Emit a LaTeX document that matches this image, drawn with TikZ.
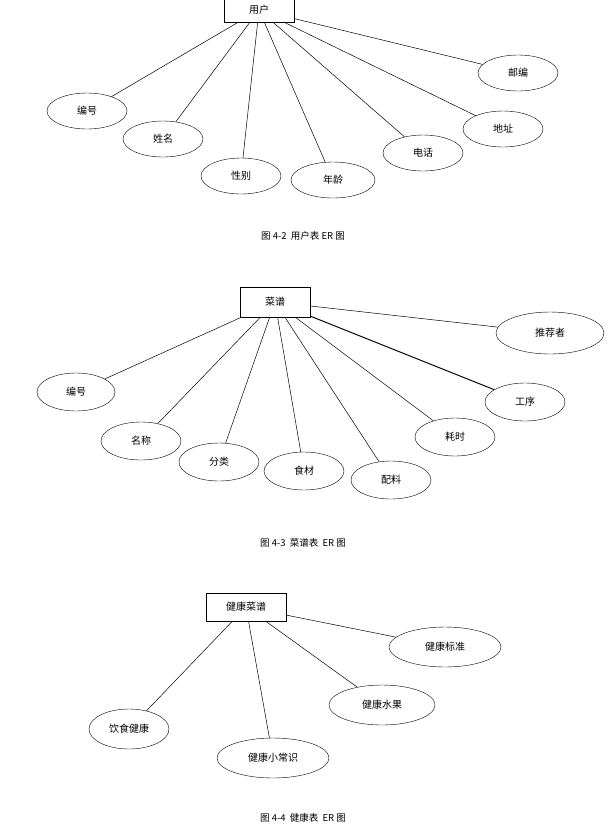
\documentclass[tikz,border=0pt]{standalone}
\usepackage{fontspec}
\setmainfont{Noto Sans CJK SC}
\usetikzlibrary{shapes.geometric}
\begin{document}
\begin{tikzpicture}[x=1pt, y=-1pt, font=\fontsize{10}{12}\selectfont]
    % Styles
    \tikzstyle{entity} = [rectangle, draw=black, minimum width=70pt, minimum height=26pt, inner sep=2pt]
    \tikzstyle{attr} = [ellipse, draw=black, minimum width=80pt, minimum height=36pt, inner sep=0pt]
    \tikzstyle{link} = [draw=black, line width=0.5pt]
    \tikzstyle{caption} = [font=\fontsize{9.5}{11}\selectfont]
    \useasboundingbox (0,0) rectangle (616,831);

    % Figure 4-2
    \node[entity, minimum height=24pt] (U) at (259,10) {用户};
    \node[attr] (U1) at (87,111) {编号};
    \node[attr] (U2) at (163,139) {姓名};
    \node[attr] (U3) at (241,176) {性别};
    \node[attr, minimum width=84pt] (U4) at (333,180) {年龄};
    \node[attr] (U5) at (423,153) {电话};
    \node[attr] (U6) at (503,129) {地址};
    \node[attr] (U7) at (518,73) {邮编};
    \foreach \a in {U1,U2,U3,U4,U5,U6,U7}
        \draw[link] (U) -- (\a);
    \node[caption] (C1) at (303,236) {图 4-2\ \ 用户表 ER 图};

    % Figure 4-3
    \node[entity, minimum height=30pt] (M) at (275,302) {菜谱};
    \node[attr, minimum width=78pt, minimum height=38pt] (M1) at (76,392) {编号};
    \node[attr, minimum height=38pt] (M2) at (141,441) {名称};
    \node[attr, minimum height=38pt] (M3) at (219,462) {分类};
    \node[attr, minimum height=38pt] (M4) at (304,471) {食材};
    \node[attr, minimum height=38pt] (M5) at (391,480) {配料};
    \node[attr, minimum height=38pt] (M6) at (455,437) {耗时};
    \node[attr, minimum height=38pt] (M7) at (525,402) {工序};
    \node[attr, minimum width=108pt, minimum height=42pt] (M8) at (550,333) {推荐者};
    \foreach \a in {M1,M2,M3,M4,M5,M6,M8}
        \draw[link] (M) -- (\a);
    \draw[link, line width=1pt] (M) -- (M7);
    \node[caption] (C2) at (303,543) {图 4-3\ \ 菜谱表\ \ ER 图};

    % Figure 4-4
    \node[entity, minimum width=80pt, minimum height=28pt] (H) at (246,607) {健康菜谱};
    \node[attr, minimum width=80pt, minimum height=40pt] (H1) at (129,729) {饮食健康};
    \node[attr, minimum width=112pt, minimum height=40pt] (H2) at (273,758) {健康小常识};
    \node[attr, minimum width=106pt, minimum height=40pt] (H3) at (382,705) {健康水果};
    \node[attr, minimum width=112pt, minimum height=40pt] (H4) at (445,647) {健康标准};
    \foreach \a in {H1,H2,H3,H4}
        \draw[link] (H) -- (\a);
    \node[caption] (C3) at (303,818) {图 4-4\ \ 健康表\ \ ER 图};
\end{tikzpicture}
\end{document}
